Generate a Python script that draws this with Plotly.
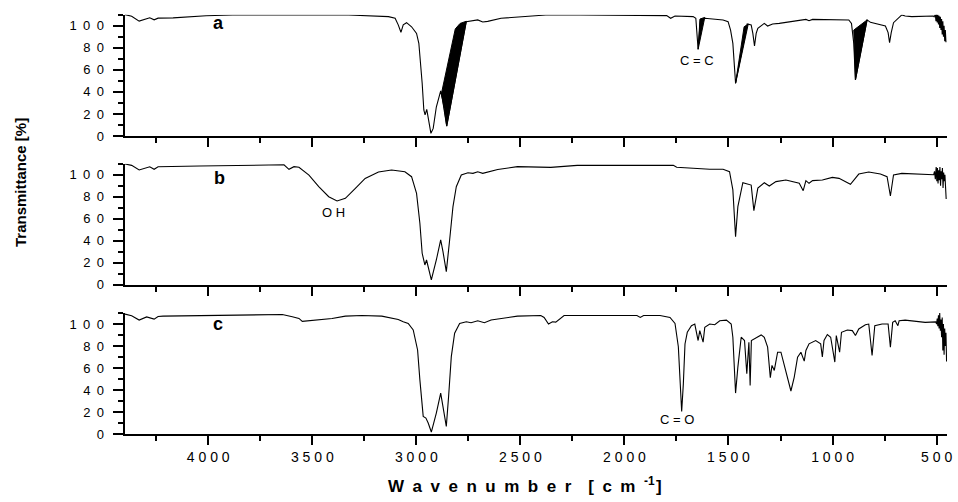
import plotly.graph_objects as go

# ---------------- FTIR spectra (wavenumber in cm-1, transmittance in %) ----------------
wn_a = [4400, 4368, 4332, 4296, 4281, 4260, 4241, 4169, 4010, 3883, 3469, 3325, 3134, 3102,
        3087, 3074, 3063, 3047, 3023, 2999, 2988, 2980, 2972, 2964, 2958, 2950, 2943, 2930,
        2919, 2904, 2883, 2875, 2864, 2854, 2760, 2737, 2705, 2681, 2657, 2593, 2529, 2450,
        2378, 2211, 1893, 1797, 1778, 1757, 1670, 1657, 1646, 1635, 1614, 1574, 1526, 1502,
        1490, 1479, 1471, 1466, 1410, 1391, 1383, 1375, 1367, 1359, 1328, 1312, 1288, 1256,
        1128, 1113, 1096, 922, 909, 898, 890, 834, 818, 746, 733, 726, 718, 707, 667, 651,
        619, 516, 512, 506, 503, 500, 497, 494, 491, 488, 485, 482, 479, 476, 473, 470, 467,
        464, 461, 458, 455]
t_a = [110, 108.6, 104.1, 106.5, 107.1, 105.3, 106.8, 107.1, 109, 109.6, 109.6, 109.7, 108.2,
       106.8, 100.7, 94, 100.7, 102.7, 99, 93, 84, 68.9, 47.8, 23.6, 19.2, 24.2, 17.5, 2.4,
       6.9, 26.3, 41, 34.2, 20.6, 9, 103.6, 104.5, 105.2, 103.3, 103.9, 106.7, 107.6, 108.8,
       109.7, 109.7, 109.7, 109.1, 106.7, 108.8, 108.2, 106.7, 78.6, 105.2, 106.7, 106.1,
       105.2, 103.6, 96, 83.9, 66.3, 47.8, 101.5, 100.6, 93, 81.6, 93, 97.6, 102.1, 99.7,
       101.5, 102.1, 105.7, 104.5, 105.7, 105.2, 102.1, 84, 50.8, 105.2, 103, 99.7, 93.7,
       84.6, 93.7, 102.7, 109.7, 108.8, 108.2, 108.8, 108, 110, 104, 111, 103, 110, 101,
       109, 98, 108, 96, 106, 92, 104, 90, 100, 86, 96, 85]

# dense fringe bands of spectrum a, as closed outlines separated by None
fringe_wn_a = [2880, 2813, 2790, 2760, 2854, 2866, 2880, None,
               1646, 1637, 1614, 1646, None,
               1466, 1425, 1405, 1466, None,
               898, 890, 834, 898]
fringe_t_a = [38, 97, 102, 104, 9, 25, 38, None,
              78.6, 106, 107.5, 78.6, None,
              47.8, 99, 101.5, 47.8, None,
              96, 50.8, 105.2, 96]

wn_b = [4400, 4368, 4332, 4296, 4281, 4260, 4241, 4042, 3723, 3636, 3612, 3588, 3564, 3516,
        3469, 3421, 3381, 3341, 3293, 3246, 3182, 3119, 3055, 3023, 2999, 2983, 2972, 2959,
        2951, 2943, 2928, 2904, 2883, 2872, 2856, 2840, 2824, 2808, 2784, 2752, 2728, 2705,
        2681, 2609, 2514, 2354, 2227, 1765, 1749, 1670, 1590, 1526, 1495, 1479, 1466, 1455,
        1431, 1391, 1378, 1359, 1328, 1304, 1272, 1224, 1160, 1141, 1128, 1113, 1096, 1049,
        1001, 969, 937, 914, 874, 826, 770, 738, 722, 707, 667, 516, 514, 510, 506, 502, 499,
        496, 493, 490, 487, 484, 481, 478, 475, 472, 469, 466, 463, 460, 457, 454]
t_b = [109.7, 108.5, 104.3, 106.8, 107.2, 104.9, 107.2, 107.9, 109.3, 109, 104.9, 107.3, 106.7,
       99.7, 89.1, 80, 76.2, 78.6, 87.6, 96.6, 102.4, 104.3, 102.7, 98.2, 83.1, 55.9, 28.7,
       18.1, 22.6, 16.6, 4.5, 22.6, 40.8, 30.2, 12, 40.8, 71, 89.1, 99.7, 101.8, 101.2, 102.7,
       101.2, 104.8, 107.3, 106.7, 108.5, 108.5, 106.7, 105.8, 104.9, 104.9, 102.8, 86.2,
       43.8, 71, 92.7, 90.6, 67.4, 87.9, 92.7, 89.7, 93.7, 95.2, 92.2, 85.5, 94.6, 92.2, 94.6,
       95.2, 97.6, 96.7, 93.7, 91.3, 100.6, 102.4, 100.6, 98.2, 80.7, 99.7, 101.2, 99.7, 100,
       103, 96, 107, 94, 106, 92, 104, 95, 107, 90, 103, 96, 106, 88, 102, 94, 100, 85, 78]

wn_c = [4400, 4368, 4332, 4296, 4260, 4241, 4217, 3978, 3644, 3596, 3564, 3548, 3469, 3405,
        3341, 3262, 3166, 3119, 3087, 3063, 3039, 3015, 2994, 2983, 2967, 2954, 2943, 2928,
        2904, 2883, 2872, 2856, 2845, 2832, 2816, 2792, 2760, 2737, 2705, 2673, 2641, 2514,
        2402, 2386, 2365, 2346, 2330, 2290, 1940, 1924, 1908, 1829, 1781, 1757, 1741, 1732,
        1725, 1717, 1709, 1698, 1678, 1662, 1646, 1638, 1622, 1614, 1590, 1566, 1542, 1510,
        1487, 1479, 1466, 1455, 1439, 1423, 1412, 1402, 1396, 1390, 1375, 1359, 1343, 1328,
        1312, 1299, 1291, 1280, 1264, 1248, 1224, 1200, 1184, 1168, 1152, 1136, 1128, 1113,
        1081, 1057, 1049, 1041, 1025, 1009, 989, 982, 966, 957, 929, 905, 890, 874, 842, 826,
        810, 797, 762, 733, 722, 711, 699, 686, 680, 651, 555, 508, 504, 500, 497, 494, 491,
        488, 485, 482, 479, 476, 473, 470, 467, 464, 461, 458, 455, 452]
t_c = [109, 107.5, 103.6, 106.5, 104.5, 106.8, 107.2, 107.8, 108.7, 106.6, 105.1, 102.4, 103.6,
       105.1, 107.2, 107.8, 107.2, 105.1, 104.2, 102.1, 100.6, 94.6, 76.4, 49.2, 16, 14.5, 10,
       1.8, 19, 37.2, 25.1, 6.9, 34.1, 70.4, 91.6, 100.6, 102.1, 101.2, 103, 101.2, 103.6,
       107.2, 107.8, 106, 100, 102.1, 101.8, 107.8, 107.8, 106, 107.8, 107.8, 106, 100.6,
       79.4, 52.2, 20.5, 45.6, 81.9, 92.5, 98.5, 100, 85, 94, 83.5, 97, 100, 99.4, 103,
       103.6, 100, 88, 37.2, 60.8, 88, 85, 54.8, 83.5, 44.2, 85, 86.5, 88, 90.1, 88, 79,
       51.2, 62.4, 57.8, 74.4, 74.4, 57.8, 39.1, 51.8, 69.9, 74.4, 66.3, 76, 82, 85, 82, 70,
       85, 90.4, 88, 65.4, 89.5, 74.4, 92.5, 94.6, 94, 89.5, 95.5, 99.4, 100, 71.4, 98.5,
       100, 100, 79, 101.5, 103, 98.5, 103, 103.6, 101.5, 102.4, 102, 100, 105, 98, 108, 96,
       110, 94, 104, 88, 106, 76, 100, 72, 96, 80, 92, 66, 60]

panel_labels = ["a", "b", "c"]
panel_label_wn = [3951, 3946, 3951]
panel_label_t = [102.2, 96.7, 99.7]

band_names = ["C = C", "O H", "C = O"]
band_wn = [1650, 3397, 1749]
band_t = [68.3, 65.5, 13.6]
band_panel = [0, 1, 2]

x_tick_values = [500, 1000, 1500, 2000, 2500, 3000, 3500, 4000]
x_tick_labels = ["500", "1000", "1500", "2000", "2500", "3000", "3500", "4000"]
y_tick_values = [0, 20, 40, 60, 80, 100]
y_tick_labels = ["0", "20", "40", "60", "80", "100"]

FONT = "Liberation Sans, Arial, Helvetica, sans-serif"


def spaced(text, gap):
    """Spread the characters of a label apart."""
    return gap.join(text)


# vertical placement of the three stacked panels (paper fractions)
domains = [[0.7095, 0.9985], [0.355, 0.6436], [0.0, 0.288]]

fig = go.Figure()
series = [(wn_a, t_a), (wn_b, t_b), (wn_c, t_c)]
for i, (wn, t) in enumerate(series):
    sfx = "" if i == 0 else str(i + 1)
    fig.add_trace(go.Scatter(x=wn, y=t, mode="lines", xaxis="x" + sfx, yaxis="y" + sfx,
                             line=dict(color="black", width=1.1), showlegend=False,
                             hoverinfo="skip"))

fig.add_trace(go.Scatter(x=fringe_wn_a, y=fringe_t_a, mode="lines", fill="toself",
                         fillcolor="black", line=dict(color="black", width=1),
                         xaxis="x", yaxis="y", showlegend=False, hoverinfo="skip"))

layout = dict(
    width=958, height=502,
    margin=dict(l=125, r=6, t=14, b=68),
    paper_bgcolor="white", plot_bgcolor="white",
    font=dict(family=FONT, color="black"),
    showlegend=False,
)

for i in range(3):
    sfx = "" if i == 0 else str(i + 1)
    layout["xaxis" + sfx] = dict(
        domain=[0, 1], anchor="y" + sfx, range=[4400, 450],
        showline=True, linecolor="black", linewidth=1.6, mirror=False,
        showgrid=False, zeroline=False,
        ticks="outside", ticklen=9, tickwidth=1.5, tickcolor="black",
        tickmode="array", tickvals=x_tick_values,
        ticktext=[spaced(s, " ") for s in x_tick_labels],
        showticklabels=(i == 2),
        tickfont=dict(family=FONT, size=14, color="black"),
        minor=dict(tickmode="linear", tick0=0, dtick=250, ticks="outside",
                   ticklen=5, tickwidth=1.5, tickcolor="black", showgrid=False),
    )
    if i > 0:
        layout["xaxis" + sfx]["matches"] = "x"
    layout["yaxis" + sfx] = dict(
        domain=domains[i], anchor="x" + sfx, range=[0, 110],
        showline=True, linecolor="black", linewidth=1.6, mirror=False,
        showgrid=False, zeroline=False,
        ticks="outside", ticklen=10, tickwidth=1.5, tickcolor="black",
        tickmode="array", tickvals=y_tick_values,
        # trailing gap keeps the labels clear of the tick marks
        ticktext=[spaced(s, "\u2002") + "\u2002" for s in y_tick_labels],
        tickfont=dict(family=FONT, size=13, color="black"),
        minor=dict(tickmode="linear", tick0=0, dtick=10, ticks="outside",
                   ticklen=5, tickwidth=1.5, tickcolor="black", showgrid=False),
    )

fig.update_layout(**layout)

annotations = []
for i, lab in enumerate(panel_labels):
    sfx = "" if i == 0 else str(i + 1)
    annotations.append(dict(x=panel_label_wn[i], y=panel_label_t[i], xref="x" + sfx,
                            yref="y" + sfx, text="<b>%s</b>" % lab, showarrow=False,
                            font=dict(family=FONT, size=18, color="black")))
for name, w, t, p in zip(band_names, band_wn, band_t, band_panel):
    sfx = "" if p == 0 else str(p + 1)
    annotations.append(dict(x=w, y=t, xref="x" + sfx, yref="y" + sfx, text=name,
                            showarrow=False, font=dict(family=FONT, size=13, color="black")))

# axis titles
annotations.append(dict(x=-0.127, y=0.599, xref="paper", yref="paper",
                        xanchor="center", yanchor="middle",
                        text="<b>Transmittance [%]</b>", textangle=-90, showarrow=False,
                        font=dict(family=FONT, size=15, color="black")))
gap = "\u2002"
x_title = spaced("Wavenumber", gap) + gap + gap + spaced("[cm", gap) + gap + \
    "<sup>-1</sup>" + "\u200a]"
annotations.append(dict(x=0.487, y=-0.122, xref="paper", yref="paper",
                        text="<b>%s</b>" % x_title, showarrow=False,
                        xanchor="center", yanchor="middle",
                        font=dict(family=FONT, size=17, color="black")))
fig.update_layout(annotations=annotations)

fig.write_html("out.html")
